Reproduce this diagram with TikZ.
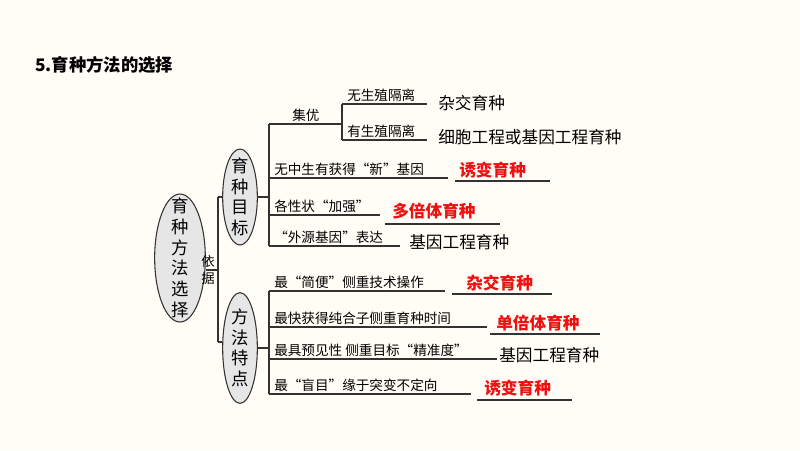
\documentclass[tikz,border=0pt]{standalone}
\usepackage{fontspec}
\newfontfamily\cjk{Noto Sans CJK SC}
\usetikzlibrary{shapes.geometric}
\definecolor{bg}{HTML}{FFFDF6}
\definecolor{ell}{HTML}{E6E6E6}
\definecolor{ln}{HTML}{333333}
\definecolor{rd}{HTML}{EE1111}
\begin{document}
\begin{tikzpicture}[x=0.75pt,y=-0.75pt,
  every node/.style={font=\cjk, inner sep=0pt, text=black},
  oval/.style={ellipse, draw=ln, fill=ell, line width=0.8pt, minimum width=#1},
  ovtxt/.style={align=center, font=\cjk\fontsize{13}{15.5}\selectfont},
  lab/.style={anchor=base west, font=\cjk\fontsize{10.2}{11}\selectfont},
  res/.style={anchor=base west, font=\cjk\fontsize{12.5}{14}\selectfont},
  red/.style={anchor=base west, font=\cjk\bfseries\fontsize{12.5}{14}\selectfont, text=rd},
  br/.style={draw=ln, line width=0.9pt}]
\fill[bg] (0,0) rectangle (800,450);
\useasboundingbox (0,0) rectangle (800,450);
\node[anchor=base west, font=\cjk\bfseries\fontsize{13}{15}\selectfont] (title) at (35,71) {5.育种方法的选择};
% ellipses
\node[oval=38pt, minimum height=96pt] (root) at (180,258) {};
\node[ovtxt] (roott) at (root.center) {育\\种\\方\\法\\选\\择};
\node[oval=26pt, minimum height=72pt] (goal) at (240,197) {};
\node[ovtxt] (goalt) at (goal.center) {育\\种\\目\\标};
\node[oval=26pt, minimum height=83pt] (feat) at (240,348) {};
\node[ovtxt] (featt) at (feat.center) {方\\法\\特\\点};
\node[font=\cjk\fontsize{10}{13}\selectfont, align=center] (yj) at (208,270) {依\\据};
\coordinate (j1) at (218,270);
\coordinate (j2) at (218,197);
\coordinate (j3) at (218,342);
\draw[br] (root.east |- j1) -- (j1);
\draw[br] (j2) -- (j3);
\draw[br] (j2) -- (goal.west |- j2);
\draw[br] (j3) -- (feat.west |- j3);
% upper branch
\coordinate (u0) at (269,124); \coordinate (u1) at (269,246);
\draw[br] (u0) -- (u1);
\draw[br] (goal.east |- 0,197) -- (269,197);
\draw[br] (u0) -- (342,124);
\node[lab] (jy) at (292,120) {集优};
\draw[br] (342,104) -- (342,140);
\draw[br] (342,104) -- (427,104);
\draw[br] (342,140) -- (427,140);
\node[lab] (a1) at (347,100) {无生殖隔离};
\node[lab] (a2) at (347,136) {有生殖隔离};
\node[res] (r1) at (438,109) {杂交育种};
\node[res] (r2) at (438,143) {细胞工程或基因工程育种};
\draw[br] (269,178) -- (448,178);
\node[lab] (b1) at (274,174) {无中生有获得“新”基因};
\node[red] (r3) at (459,176) {诱变育种};
\draw[br] (455,181) -- (550,181);
\draw[br] (269,215) -- (380,215);
\node[lab] (b2) at (274,211) {各性状“加强”};
\node[red] (r4) at (392,217) {多倍体育种};
\draw[br] (385,224) -- (500,224);
\draw[br] (269,246) -- (400,246);
\node[lab] (b3) at (274,242) {“外源基因”表达};
\node[res] (r5) at (409,248) {基因工程育种};
% lower branch
\draw[br] (269,291) -- (269,394);
\draw[br] (feat.east |- 0,348) -- (269,348);
\draw[br] (269,291) -- (445,291);
\node[lab] (c1) at (274,287) {最“简便”侧重技术操作};
\node[red] (r6) at (466,289) {杂交育种};
\draw[br] (452,294) -- (552,294);
\draw[br] (269,327) -- (487,327);
\node[lab] (c2) at (274,323) {最快获得纯合子侧重育种时间};
\node[red] (r7) at (496,329) {单倍体育种};
\draw[br] (490,334) -- (600,334);
\draw[br] (269,359) -- (497,359);
\node[lab] (c3) at (274,355) {最具预见性 侧重目标“精准度”};
\node[res] (r8) at (499,361) {基因工程育种};
\draw[br] (269,394) -- (471,394);
\node[lab] (c4) at (274,390) {最“盲目”缘于突变不定向};
\node[red] (r9) at (484,394) {诱变育种};
\draw[br] (477,400) -- (572,400);
\end{tikzpicture}
\end{document}
